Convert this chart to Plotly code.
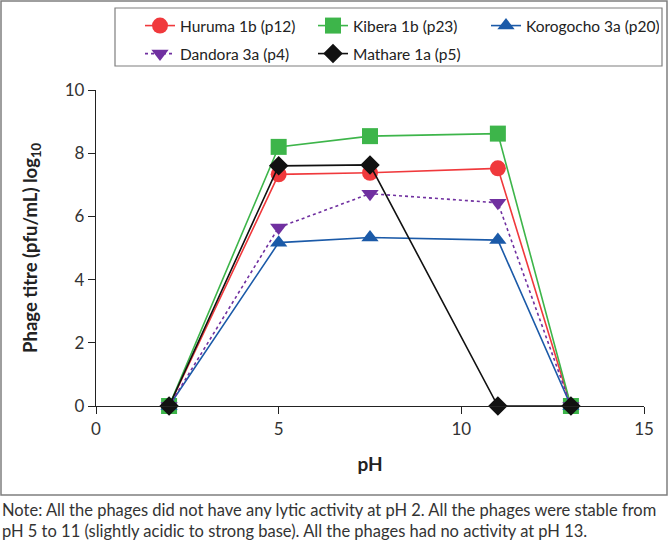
import plotly.graph_objects as go

ph = [2, 5, 7.5, 11, 13]
huruma = [0, 7.33, 7.38, 7.52, 0]
kibera = [0, 8.2, 8.54, 8.62, 0]
korogocho = [0, 5.17, 5.33, 5.25, 0]
dandora = [0, 5.65, 6.72, 6.43, 0]
mathare = [0, 7.6, 7.63, 0, 0]

x_ticks = [0, 5, 10, 15]
y_ticks = [0, 2, 4, 6, 8, 10]

note_lines = [
    "Note: All the phages did not have any lytic activity at pH 2. All the phages were stable from",
    "pH 5 to 11 (slightly acidic to strong base). All the phages had no activity at pH 13.",
]

FONT = "Lato"

series = [
    ("Huruma 1b (p12)", huruma, "#F0393C", "circle", 16, "solid", "legend"),
    ("Kibera 1b (p23)", kibera, "#3DB54A", "square", 16, "solid", "legend"),
    ("Korogocho 3a (p20)", korogocho, "#1B5AA8", "triangle-up", 15, "solid", "legend"),
    ("Dandora 3a (p4)", dandora, "#7030A0", "triangle-down", 15, "dot", "legend2"),
    ("Mathare 1a (p5)", mathare, "#111111", "diamond", 15, "solid", "legend2"),
]

fig = go.Figure()
for name, vals, col, sym, sz, dash, lg in series:
    fig.add_trace(go.Scatter(
        x=ph, y=vals, name=name, mode="lines+markers",
        line=dict(color=col, width=1.6, dash=dash),
        marker=dict(symbol=sym, size=sz, color=col),
        legend=lg, cliponaxis=False,
    ))

L, R, T, B = 96, 26, 90, 137
W, H = 670, 543
pw, ph_ = W - L - R, H - T - B

def px(x):
    return (x - L) / pw

def py(y):
    return (H - B - y) / ph_

leg_font = dict(size=15.5, family=FONT, color="#222222")

fig.update_layout(
    width=W, height=H,
    margin=dict(l=L, r=R, t=T, b=B, autoexpand=False),
    paper_bgcolor="white", plot_bgcolor="white",
    font=dict(family=FONT, color="#333333"),
    showlegend=True,
    legend=dict(orientation="h", x=px(140), y=py(9), xanchor="left", yanchor="top",
                bgcolor="rgba(0,0,0,0)", borderwidth=0, entrywidth=128,
                font=leg_font, traceorder="normal"),
    legend2=dict(orientation="h", x=px(140), y=py(37), xanchor="left", yanchor="top",
                 bgcolor="rgba(0,0,0,0)", borderwidth=0, entrywidth=128,
                 font=leg_font, traceorder="normal"),
    xaxis=dict(range=[0, 15], tickvals=x_ticks, showgrid=False, zeroline=False,
               showline=True, linecolor="#222222", linewidth=1.3,
               ticks="outside", ticklen=7, tickcolor="#222222", tickwidth=1.3,
               tickfont=dict(size=17, color="#333333"),
               title=dict(text="<b>pH</b>", font=dict(size=19, color="#222222"), standoff=20)),
    yaxis=dict(range=[0, 10], tickvals=y_ticks, showgrid=False, zeroline=False,
               showline=True, linecolor="#222222", linewidth=1.3,
               ticks="outside", ticklen=7, tickcolor="#222222", tickwidth=1.3,
               tickfont=dict(size=17, color="#333333"),
               title=dict(text="<b>Phage titre (pfu/mL) log<sub>10</sub></b>",
                          font=dict(size=18.5, color="#222222"), standoff=22)),
    shapes=[
        dict(type="rect", xref="paper", yref="paper", x0=px(1), x1=px(667), y0=py(495), y1=py(1),
             line=dict(color="#7F7F7F", width=1.5), fillcolor="rgba(0,0,0,0)", layer="below"),
        dict(type="rect", xref="paper", yref="paper", x0=px(115), x1=px(662), y0=py(66), y1=py(8),
             line=dict(color="#7F7F7F", width=1.2), fillcolor="rgba(0,0,0,0)", layer="below"),
    ],
    annotations=[
        dict(text="<br>".join(note_lines), xref="paper", yref="paper", x=px(1), y=py(520),
             xanchor="left", yanchor="middle", align="left", showarrow=False, borderpad=0,
             font=dict(size=16.5, family=FONT, color="#333333")),
    ],
)

fig.write_html("out.html", config={"displayModeBar": False},
               post_script="document.body.style.margin='0';document.body.style.padding='0';")
